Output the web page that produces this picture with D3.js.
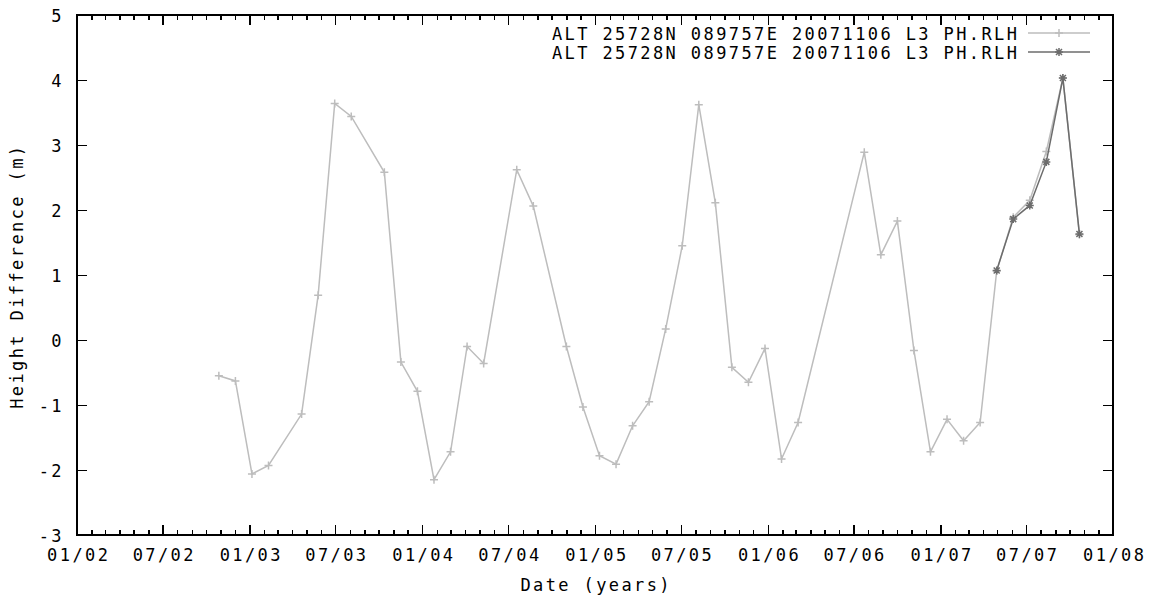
<!DOCTYPE html>
<html>
<head>
<meta charset="utf-8">
<script src="https://cdn.jsdelivr.net/npm/d3@7"></script>
<style>
  html, body { margin: 0; padding: 0; background: #fff; }
  svg { display: block; }
  text { font-family: "DejaVu Sans Mono", "Liberation Mono", monospace; font-size: 17px; fill: #000; letter-spacing: 2.4px; }
</style>
</head>
<body>
<svg id="chart" width="1150" height="598"></svg>
<script>
// ---- Data ----
const seriesNames = [
  "ALT 25728N 089757E 20071106 L3 PH.RLH",
  "ALT 25728N 089757E 20071106 L3 PH.RLH"
];
const lightDates = [
  "2002-10-28","2002-12-02","2003-01-06","2003-02-10","2003-04-21","2003-05-26",
  "2003-06-30","2003-08-04","2003-10-13","2003-11-17","2003-12-22","2004-01-26",
  "2004-03-01","2004-04-05","2004-05-10","2004-07-19","2004-08-23","2004-11-01",
  "2004-12-06","2005-01-10","2005-02-14","2005-03-21","2005-04-25","2005-05-30",
  "2005-07-04","2005-08-08","2005-09-12","2005-10-17","2005-11-21","2005-12-26",
  "2006-01-30","2006-03-06","2006-07-24","2006-08-28","2006-10-02","2006-11-06",
  "2006-12-11","2007-01-15","2007-02-19","2007-03-26","2007-04-30","2007-06-04",
  "2007-07-09","2007-08-13","2007-09-17","2007-10-22"
];
const lightValues = [
  -0.55,-0.63,-2.06,-1.93,-1.14,0.69,
  3.64,3.44,2.58,-0.34,-0.79,-2.15,
  -1.72,-0.10,-0.36,2.62,2.06,-0.10,
  -1.03,-1.78,-1.91,-1.32,-0.95,0.17,
  1.45,3.62,2.11,-0.42,-0.65,-0.13,
  -1.83,-1.27,2.89,1.31,1.83,-0.16,
  -1.72,-1.22,-1.55,-1.27,1.06,1.89,
  2.15,2.90,4.03,1.62
];
const darkDates = ["2007-04-30","2007-06-04","2007-07-09","2007-08-13","2007-09-17","2007-10-22"];
const darkValues = [1.07,1.86,2.07,2.74,4.03,1.63];
const yTicks = [-3,-2,-1,0,1,2,3,4,5];
const xDomain = ["2002-01-01","2008-01-01"];
const xTitle = "Date (years)";
const yTitle = "Height Difference (m)";

// ---- Layout ----
const W = 1150, H = 598;
const L = 77, R = 1113, T = 15, B = 535;
const lightColor = "#bdbdbd", darkColor = "#6c6c6c";
const parse = d3.utcParse("%Y-%m-%d");

const svg = d3.select("#chart");
const x = d3.scaleUtc().domain(xDomain.map(parse)).range([L, R]);
const y = d3.scaleLinear().domain([-3, 5]).range([B, T]);

const majorX = d3.utcMonth.every(6).range(parse(xDomain[0]), d3.utcDay.offset(parse(xDomain[1]), 1));
const minorX = d3.utcMonth.range(parse(xDomain[0]), d3.utcDay.offset(parse(xDomain[1]), 1));
const fmt = d3.utcFormat("%m/%y");

function styleAxis(g) {
  g.select(".domain").remove();
  g.selectAll("line").attr("stroke", "#000").attr("stroke-width", 1.5).attr("shape-rendering", "crispEdges");
}

// Bottom axis (major with labels)
svg.append("g").attr("transform", `translate(0,${B})`)
  .call(d3.axisBottom(x).tickValues(majorX).tickFormat(fmt).tickSize(-10).tickPadding(14))
  .call(styleAxis)
  .call(g => g.selectAll("text").attr("font-family", null).attr("font-size", null).attr("dx", "1.2px"));
// Bottom minor
svg.append("g").attr("transform", `translate(0,${B})`)
  .call(d3.axisBottom(x).tickValues(minorX).tickFormat("").tickSize(-5))
  .call(styleAxis);
// Top axis
svg.append("g").attr("transform", `translate(0,${T})`)
  .call(d3.axisTop(x).tickValues(majorX).tickFormat("").tickSize(-10))
  .call(styleAxis);
svg.append("g").attr("transform", `translate(0,${T})`)
  .call(d3.axisTop(x).tickValues(minorX).tickFormat("").tickSize(-5))
  .call(styleAxis);
// Left axis
svg.append("g").attr("transform", `translate(${L},0)`)
  .call(d3.axisLeft(y).tickValues(yTicks).tickFormat(d => String(d)).tickSize(-10).tickPadding(13))
  .call(styleAxis)
  .call(g => g.selectAll("text").attr("font-family", null).attr("font-size", null).attr("dy", "0.36em"));
// Right axis
svg.append("g").attr("transform", `translate(${R},0)`)
  .call(d3.axisRight(y).tickValues(yTicks).tickFormat("").tickSize(-10))
  .call(styleAxis);

// Border
svg.append("rect").attr("x", L).attr("y", T).attr("width", R - L).attr("height", B - T)
  .attr("fill", "none").attr("stroke", "#000").attr("stroke-width", 2).attr("shape-rendering", "crispEdges");

// Titles
svg.append("text").attr("x", (L + R) / 2 + 1.2).attr("y", 591).attr("text-anchor", "middle").text(xTitle);
svg.append("text").attr("transform", `translate(23,${(T + B) / 2 + 1.2}) rotate(-90)`)
  .attr("text-anchor", "middle").text(yTitle);

// Markers
const plusPath = "M-4,0H4M0,-4V4";
const starPath = "M-4,0H4M0,-4V4M-3,-3L3,3M-3,3L3,-3";

const lightData = lightDates.map((d, i) => ({ date: parse(d), v: lightValues[i] }));
const darkData = darkDates.map((d, i) => ({ date: parse(d), v: darkValues[i] }));
const line = d3.line().x(d => x(d.date)).y(d => y(d.v));

svg.append("path").datum(lightData).attr("d", line)
  .attr("fill", "none").attr("stroke", lightColor).attr("stroke-width", 1.5);
svg.append("g").selectAll("path").data(lightData).join("path")
  .attr("transform", d => `translate(${x(d.date)},${y(d.v)})`)
  .attr("d", plusPath).attr("stroke", lightColor).attr("stroke-width", 1.5).attr("fill", "none");

svg.append("path").datum(darkData).attr("d", line)
  .attr("fill", "none").attr("stroke", darkColor).attr("stroke-width", 1.5);
svg.append("g").selectAll("path").data(darkData).join("path")
  .attr("transform", d => `translate(${x(d.date)},${y(d.v)})`)
  .attr("d", starPath).attr("stroke", darkColor).attr("stroke-width", 1.5).attr("fill", "none");

// Legend
const legend = svg.append("g");
const legY = [33, 52];
const legColors = [lightColor, darkColor];
const legMarks = [plusPath, starPath];
seriesNames.forEach((name, i) => {
  legend.append("text").attr("x", 1017).attr("y", legY[i] + 6.5).attr("text-anchor", "end")
    .attr("dx", "2.4px").text(name);
  legend.append("line").attr("x1", 1028).attr("x2", 1090).attr("y1", legY[i]).attr("y2", legY[i])
    .attr("stroke", legColors[i]).attr("stroke-width", 1.5);
  legend.append("path").attr("transform", `translate(1059,${legY[i]})`).attr("d", legMarks[i])
    .attr("stroke", legColors[i]).attr("stroke-width", 1.5).attr("fill", "none");
});
</script>
</body>
</html>
